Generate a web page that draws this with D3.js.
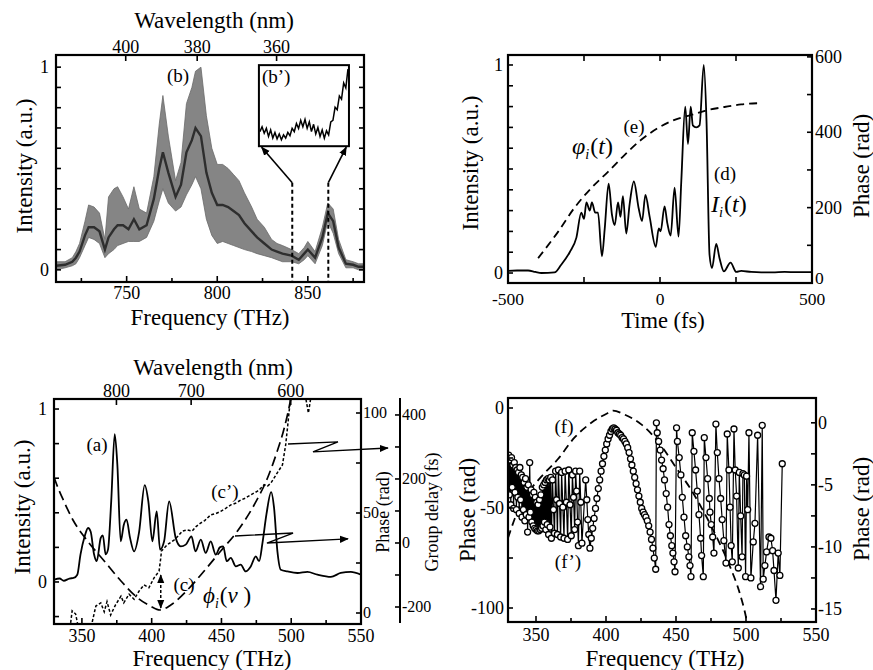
<!DOCTYPE html>
<html>
<head>
<meta charset="utf-8">
<script src="https://cdn.jsdelivr.net/npm/d3@7"></script>
<style>
body{margin:0;background:#fff}
svg{font-family:"Liberation Serif","Times New Roman",serif}
</style>
</head>
<body>
<svg id="fig" width="873" height="670"></svg>
<script>
// ---- data ----
var C_NM_THZ = 299792.458;

// (b) spectrum envelope: [freq THz, upper, lower, middle]
var bFreq  = [711,716,720,722,724,727,729,732,735,738,740,743,745,748,751,754,757,761,765,768,770,773,777,780,783,786,788,791,794,797,800,803,806,809,812,815,819,822,826,830,833,836,841,845,848,850,854,858,861,864,867,871,875,878,881];
var bUpper = [.04,.04,.06,.09,.13,.24,.32,.31,.28,.15,.36,.40,.41,.36,.30,.41,.30,.28,.46,.72,.86,.66,.44,.53,.82,.90,.98,1.0,.76,.60,.52,.52,.50,.47,.44,.38,.31,.25,.21,.15,.13,.12,.10,.08,.11,.14,.09,.21,.33,.30,.15,.05,.04,.03,.03];
var bLower = [.00,.01,.02,.03,.06,.12,.16,.15,.13,.06,.08,.10,.12,.13,.14,.14,.14,.16,.24,.34,.40,.33,.29,.31,.37,.42,.46,.40,.25,.17,.13,.14,.13,.12,.11,.10,.09,.08,.07,.06,.05,.04,.04,.03,.05,.07,.03,.12,.24,.18,.08,.01,.01,.00,.00];
var bMid   = [.02,.025,.04,.06,.09,.17,.21,.21,.19,.10,.16,.20,.22,.22,.20,.25,.20,.22,.35,.50,.58,.48,.36,.42,.58,.64,.70,.66,.48,.38,.32,.32,.31,.29,.27,.23,.19,.16,.13,.10,.09,.08,.07,.05,.08,.10,.06,.16,.28,.24,.11,.03,.025,.015,.015];
var bWaveTicks = [400,380,360];
// (b') inset, 841-861.5 THz, relative height in box
var insetVals = [0.18,0.24,0.16,0.22,0.12,0.20,0.10,0.17,0.09,0.15,0.08,0.14,0.10,0.17,0.13,0.22,0.18,0.28,0.22,0.32,0.24,0.33,0.22,0.30,0.18,0.27,0.15,0.23,0.12,0.20,0.10,0.19,0.14,0.30,0.32,0.48,0.45,0.62,0.58,0.78,0.72,0.95];
var insetStart = 841, insetStep = 0.5;
var bMarks = [841.4, 861.3];

// (d) temporal intensity [fs, a.u.] and phase (e) [fs, rad]
var dIntensity = [[-500,.01],[-470,.012],[-434,.012],[-410,.005],[-390,0],[-347,.003],[-325,.04],[-297,.10],[-275,.17],[-259,.29],[-250,.26],[-242,.34],[-231,.30],[-224,.34],[-213,.29],[-204,.29],[-191,.08],[-182,.21],[-169,.43],[-158,.28],[-149,.23],[-138,.34],[-130,.27],[-122,.37],[-111,.19],[-100,.33],[-86,.44],[-70,.31],[-59,.25],[-48,.375],[-34,.27],[-14,.126],[-4,.215],[2,.20],[15,.32],[24,.24],[35,.18],[48,.41],[61,.175],[70,.44],[83,.80],[92,.62],[101,.80],[108,.71],[119,.70],[130,.71],[144,1.0],[153,.73],[163,.087],[171,.024],[185,.14],[196,.07],[210,.008],[232,.05],[251,.005],[267,.01],[300,.005],[333,.003],[370,.003],[410,.005],[450,.004],[497,.004]];
var ePhase = [[-401,66],[-336,135],[-281,200],[-226,252],[-171,295],[-116,340],[-62,380],[-7,411],[48,433],[103,446],[158,459],[212,467],[267,474],[322,477]];

// (a) spectrum [THz, a.u.], (c) phase [THz, rad], (c') group delay [THz, fs]
var aIntensity = [[330,.013],[334,.02],[337,.007],[341,.02],[344,.023],[346.7,.042],[349,.16],[352,.264],[354.4,.312],[356.3,.29],[358.7,.16],[360.6,.12],[363.5,.255],[365,.27],[367,.16],[368.7,.187],[371,.466],[373.5,.855],[375.4,.678],[377.8,.235],[380,.33],[382,.36],[384.5,.255],[387.4,.177],[391,.29],[395,.56],[397.6,.466],[400.5,.235],[403.6,.408],[406,.187],[408.9,.235],[412.5,.466],[417.2,.255],[420.8,.206],[424.4,.216],[428.5,.264],[431.4,.177],[435.2,.245],[438.7,.168],[442.3,.235],[445.9,.158],[448.8,.2],[451.2,.206],[453.8,.12],[456.7,.139],[460.3,.09],[463.8,.10],[467.4,.061],[471,.09],[474.6,.148],[477,.12],[479.4,.226],[482.2,.389],[485.6,.52],[487.7,.428],[490.1,.177],[492.5,.071],[497.3,.061],[504.5,.052],[511.6,.058],[518.8,.042],[528.4,.029],[535.5,.052],[542.7,.058],[550,.042]];
var cPhase = [[330,68],[331,66],[337,56],[344,46],[354,36],[366,26],[378,16],[390,7.5],[399,3.5],[406,1.5],[413.7,4],[425.6,11.5],[437.6,21],[449.5,31],[461.5,41],[473.4,54],[483,67.5],[490,81],[495,92.5],[499.7,107.5],[502,118]];
var cDelay = [[341.5,-265],[343,-212],[345.5,-222],[347.5,-265],[357,-265],[357.5,-245],[360,-197],[363.5,-187],[366,-215],[368,-183],[370.6,-225],[374,-194],[378,-166],[380,-187],[383.8,-160],[387.4,-176],[391,-150],[394.5,-131],[398,-140],[401.7,-109],[405.3,-88],[406.5,-47],[407,-25],[411,-6],[416,9],[419,22],[422,37],[425.6,41],[429,37],[432,52],[435,62],[438,70],[442.3,88],[446,92],[449.5,99],[453,108],[456.7,119],[460,124],[463.8,134],[467,140],[471,150],[475.8,162],[478,170],[480.6,182],[483,178],[485.4,187],[488,205],[490,219],[493.7,244],[496,306],[497.3,359],[498.5,412],[499.7,453],[501,490],[509,490],[510.4,453],[512.3,406],[514,453],[515.5,490]];

// (f) dashed phase [THz, rad left], (f') retrieved phase [THz, rad right]
var fPhase = [[330,-65],[334.8,-55.4],[339.5,-47.5],[344,-42.6],[353.8,-34.3],[365.7,-25.5],[377.6,-14.7],[389.5,-7.4],[401.4,-2.5],[405,-1.3],[413.3,-3.3],[425.2,-8.2],[434.7,-14.7],[441,-20.4],[450.4,-30.2],[460,-40],[469.5,-51.5],[479,-64.5],[488.5,-79.2],[495.7,-93],[500,-104.6],[502,-112]];
var fpPhase = [[330.5,-2.6],[331,-5.8],[331.5,-3.0],[332,-6.6],[332.5,-2.8],[333,-5.2],[333.5,-3.4],[334,-6.9],[334.5,-3.2],[335,-5.6],[335.5,-3.6],[336,-7.0],[336.5,-3.8],[337,-6.0],[337.5,-4.0],[338,-7.3],[338.5,-3.6],[339,-6.2],[339.5,-4.2],[340,-7.6],[340.5,-4.4],[341,-7.0],[341.5,-4.8],[342,-7.9],[342.5,-4.5],[343,-7.4],[343.5,-5.2],[344,-8.8],[344.5,-5.0],[345,-7.6],[345.5,-3.2],[346,-7.2],[346.5,-5.4],[347,-8.0],[347.5,-5.8],[348,-8.3],[348.5,-5.6],[349,-8.5],[349.5,-6.0],[350,-8.6],[350.5,-6.4],[351,-8.7],[351.5,-6.6],[352,-8.7],[352.5,-6.2],[353,-8.6],[353.5,-5.8],[354,-8.5],[354.5,-5.2],[355,-8.3],[355.5,-5.0],[356,-8.0],[356.5,-4.8],[357,-8.6],[357.5,-4.6],[358,-8.2],[358.5,-4.5],[359,-9.0],[359.5,-4.6],[360,-8.4],[360.5,-4.4],[361,-9.3],
[361.8,-4.6],[362.5,-7.0],[363.2,-8.9],[364,-3.9],[364.7,-6.2],[365.3,-9.0],[366,-3.8],[366.8,-6.5],[367.6,-9.2],[368.3,-4.0],[369.2,-6.8],[370,-9.3],[370.8,-3.9],[371.7,-6.4],[372.6,-9.4],[373.4,-3.8],[374.3,-6.6],[375.2,-9.1],[376,-4.2],[376.8,-6.0],[377.6,-8.6],[378.3,-3.9],[379,-5.5],[379.7,-8.0],[380.3,-9.9],[381.2,-3.9],[382,-6.4],[382.8,-9.7],[385.5,-4.6],[386.3,-6.2],[387,-7.8],[387.7,-9.0],[388.5,-10.1],
[389.5,-9.3],[390.5,-8.5],[391.5,-7.7],[392.5,-6.9],[393.5,-6.1],[394.5,-5.3],[395.5,-4.6],[396.5,-3.9],[397.5,-3.3],[398.5,-2.7],[399.5,-2.2],[400.5,-1.7],[401.5,-1.3],[402.5,-1.0],[403.5,-0.7],[404.5,-0.5],[405.5,-0.4],
[406.5,-0.5],[407.5,-0.6],[408.5,-0.8],[409.5,-0.9],[410.5,-1.0],[411.5,-1.2],[412.5,-1.3],[413.5,-1.5],[414.5,-1.7],[415.5,-2.0],[416.5,-2.4],[417.5,-2.9],[418.5,-3.4],[419.5,-3.9],[420.5,-4.4],[421.5,-4.9],[422.5,-5.4],[423.5,-5.9],[424.5,-6.4],[425.5,-6.9],[426.5,-7.2],[427.5,-7.4],[428.5,-7.6],[429.5,-7.9],[430.5,-8.3],[431.5,-8.8],[432.5,-9.4],[433.5,-10.1],[434.5,-10.9],[435.5,-11.8],
[436,0.0],[436.6,-0.8],[437.6,-1.5],[438.7,-2.2],[439.7,-3.0],[440.8,-3.7],[441.8,-4.6],[443,-5.7],[444,-6.8],[445,-8.2],[446,-9.1],[447,-9.9],[447.8,-10.5],[448.6,-11.2],[449.3,-12.0],
[450.4,-0.4],[451,-1.5],[452.3,-2.8],[453.5,-4.2],[454.5,-6.0],[455.7,-7.6],[456.9,-9.1],[458.1,-10.0],[459.2,-10.8],[460,-11.5],[460.7,-12.4],
[461.6,-0.8],[462.8,-2.3],[464,-3.8],[465.2,-5.5],[466.4,-7.4],[467.6,-9.3],[468.3,-10.7],[469.5,-12.4],
[470.2,-1.2],[471.4,-2.8],[472.6,-4.5],[473.8,-6.1],[474.3,-7.2],[475.2,-8.2],[476.2,-9.2],[477.1,-10.5],
[478.5,-0.1],[479.5,-2.4],[480.7,-4.5],[481.9,-6.1],[483,-7.8],[484.2,-9.5],[485.7,-11.3],
[486.6,-0.9],[487.8,-3.8],[488.6,-6.8],[489.4,-9.9],[490.2,-11.2],[491.4,-0.5],[492.3,-3.8],[493.3,-5.9],[494.5,-11.7],[495.2,-4.0],[496.2,-7.5],[497.2,-10.8],[497.8,-4.1],[498.8,-4.2],[499.7,-12.4],[500.4,-4.3],[501.2,-7.0],[502.1,-0.8],[503.5,-12.5],[505.2,-9.6],[506.4,-8.1],[508.3,-1.0],[510.4,-13.2],[511.6,-0.2],[512.3,-12.6],[513.5,-11.5],[514.7,-10.4],[516.4,-9.2],[517.8,-9.3],[519,-10.3],[520,-11.9],[521.4,-14.3],[523,-10.5],[524.2,-12.3],[525.9,-3.3]];

var svg = d3.select("#fig");
var defs = svg.append("defs");
defs.append("marker").attr("id","arr").attr("viewBox","0 -5 10 10")
	.attr("refX",9).attr("refY",0).attr("markerWidth",9).attr("markerHeight",9)
	.attr("markerUnits","userSpaceOnUse").attr("orient","auto-start-reverse")
	.append("path").attr("d","M0,-4L10,0L0,4Z").attr("fill","#000");

// inward ticks on a frame side
function ticks(g, scale, side, vals, len, pos){
	var horiz = side === "top" || side === "bottom";
	var dir = (side === "bottom" || side === "right") ? -1 : 1;
	g.append("g").selectAll("line").data(vals).join("line")
		.attr("x1", function(d){ return horiz ? scale(d) : pos; })
		.attr("x2", function(d){ return horiz ? scale(d) : pos + dir*len; })
		.attr("y1", function(d){ return horiz ? pos : scale(d); })
		.attr("y2", function(d){ return horiz ? pos + dir*len : scale(d); })
		.attr("stroke","#000").attr("stroke-width",1.6);
}
function labels(g, scale, side, vals, pos, size){
	var horiz = side === "top" || side === "bottom";
	g.append("g").selectAll("text").data(vals).join("text")
		.attr("x", function(d){ return horiz ? scale(d) : pos; })
		.attr("y", function(d){ return horiz ? pos : scale(d); })
		.attr("dy", horiz ? null : "0.34em")
		.attr("text-anchor", horiz ? "middle" : (side === "left" ? "end" : "start"))
		.attr("font-size", size || 18)
		.text(function(d){ return d; });
}
function frame(g, x0, x1, y0, y1){
	g.append("rect").attr("x",x0).attr("y",y0).attr("width",x1-x0).attr("height",y1-y0)
		.attr("fill","none").attr("stroke","#000").attr("stroke-width",2.2);
}
function clip(id, x0, x1, y0, y1){
	defs.append("clipPath").attr("id",id).append("rect")
		.attr("x",x0).attr("y",y0).attr("width",x1-x0).attr("height",y1-y0);
	return "url(#" + id + ")";
}
function title(g, txt, x, y, rot, size){
	var t = g.append("text").attr("text-anchor","middle").attr("font-size", size || 23).text(txt);
	if(rot){
		t.attr("transform","translate(" + x + "," + y + ") rotate(-90)").attr("dy","0.3em");
	} else {
		t.attr("x",x).attr("y",y);
	}
	return t;
}
function note(g, txt, x, y){
	g.append("text").attr("x",x).attr("y",y).attr("text-anchor","middle").attr("font-size",19).text(txt);
}
function mathLabel(g, x, y, sym, sub, arg, size){
	var t = g.append("text").attr("x",x).attr("y",y).attr("font-size",size);
	t.append("tspan").attr("font-style","italic").text(sym);
	t.append("tspan").attr("font-style","italic").attr("font-size",size*0.6).attr("dy",size*0.22).text(sub);
	t.append("tspan").attr("dy",-size*0.22).attr("dx",1).text("(");
	t.append("tspan").attr("font-style","italic").text(arg);
	t.append("tspan").text(")");
}
function range(a, b, s){ return d3.range(a, b + s/2, s); }

// ================= panel (b) =================
(function(){
	var X0=56, X1=364, Y0=55, Y1=282;
	var g = svg.append("g");
	var x = d3.scaleLinear().domain([711,881]).range([X0,X1]);
	var y = d3.scaleLinear().domain([-0.06,1.06]).range([Y1,Y0]);
	var cp = clip("cb", X0, X1, Y0, Y1);
	var pts = bFreq.map(function(f,i){ return {f:f, u:bUpper[i], l:bLower[i], m:bMid[i]}; });
	g.append("path").datum(pts).attr("clip-path",cp)
		.attr("d", d3.area().x(function(d){return x(d.f);}).y0(function(d){return y(d.l);}).y1(function(d){return y(d.u);}))
		.attr("fill","#858585").attr("stroke","#6a6a6a").attr("stroke-width",0.8);
	g.append("path").datum(pts).attr("clip-path",cp)
		.attr("d", d3.line().x(function(d){return x(d.f);}).y(function(d){return y(d.m);}))
		.attr("fill","none").attr("stroke","#2e2e2e").attr("stroke-width",2.4);

	// markers and arrows to the inset
	var box = {f0:823, f1:872.7, v0:0.61, v1:1.01};
	bMarks.forEach(function(f, i){
		g.append("line").attr("x1",x(f)).attr("x2",x(f)).attr("y1",y(0.43)).attr("y2",Y1)
			.attr("stroke","#000").attr("stroke-width",2).attr("stroke-dasharray","4,3");
		var tf = i === 0 ? box.f0 + 1.5 : box.f1 - 1.5;
		g.append("line").attr("x1",x(f)).attr("y1",y(0.43)).attr("x2",x(tf)).attr("y2",y(box.v0 - 0.005))
			.attr("stroke","#000").attr("stroke-width",1.6).attr("marker-end","url(#arr)");
	});
	g.append("rect").attr("x",x(box.f0)).attr("y",y(box.v1)).attr("width",x(box.f1)-x(box.f0))
		.attr("height",y(box.v0)-y(box.v1)).attr("fill","#fff").attr("stroke","#000").attr("stroke-width",2);
	var ix = d3.scaleLinear().domain([insetStart, insetStart + insetStep*(insetVals.length-1)]).range([x(box.f0)+1, x(box.f1)-1]);
	var iy = d3.scaleLinear().domain([0,1]).range([y(box.v0), y(box.v1)]);
	g.append("path").datum(insetVals)
		.attr("d", d3.line().x(function(d,i){ return ix(insetStart + i*insetStep); }).y(function(d){ return iy(d); }))
		.attr("fill","none").attr("stroke","#000").attr("stroke-width",1.5);
	g.append("text").attr("x",x(box.f0)+3).attr("y",83).attr("font-size",19).text("(b\u2019)");

	frame(g, X0, X1, Y0, Y1);
	ticks(g, x, "bottom", [750,800,850], 6, Y1);
	ticks(g, x, "bottom", [725,775,825,875], 4, Y1);
	ticks(g, y, "left", range(0,1,0.1), 5, X0);
	ticks(g, y, "right", range(0,1,0.1), 5, X1);
	var wt = bWaveTicks.map(function(l){ return C_NM_THZ / l; });
	ticks(g, x, "top", wt, 6, Y0);
	labels(g, x, "bottom", [750,800,850], 299);
	labels(g, y, "left", [0,1], X0-7);
	g.append("g").selectAll("text").data(bWaveTicks).join("text")
		.attr("x", function(d){ return x(C_NM_THZ/d); }).attr("y",53)
		.attr("text-anchor","middle").attr("font-size",18).text(function(d){ return d; });
	title(g, "Wavelength (nm)", 214, 28);
	title(g, "Frequency (THz)", 210, 325);
	title(g, "Intensity (a.u.)", 25, 166, true);
	note(g, "(b)", 178, 82);
})();

// ================= panel (d) =================
(function(){
	var X0=508, X1=812, Y0=55, Y1=283;
	var g = svg.append("g");
	var x = d3.scaleLinear().domain([-500,500]).range([X0,X1]);
	var y = d3.scaleLinear().domain([-0.048,1.048]).range([Y1,Y0]);
	var yr = d3.scaleLinear().domain([0,605]).range([Y1,Y0]);
	var cp = clip("cd", X0, X1, Y0, Y1);
	g.append("path").datum(ePhase).attr("clip-path",cp)
		.attr("d", d3.line().x(function(d){return x(d[0]);}).y(function(d){return yr(d[1]);}).curve(d3.curveMonotoneX))
		.attr("fill","none").attr("stroke","#000").attr("stroke-width",1.8).attr("stroke-dasharray","8,5");
	g.append("path").datum(dIntensity).attr("clip-path",cp)
		.attr("d", d3.line().x(function(d){return x(d[0]);}).y(function(d){return y(d[1]);}).curve(d3.curveMonotoneX))
		.attr("fill","none").attr("stroke","#000").attr("stroke-width",1.8);
	frame(g, X0, X1, Y0, Y1);
	ticks(g, x, "bottom", [-500,-250,0,250,500], 6, Y1);
	ticks(g, x, "top", [-250,0,250], 6, Y0);
	ticks(g, y, "left", range(0,1,0.1), 5, X0);
	ticks(g, yr, "right", range(0,600,100), 5, X1);
	labels(g, x, "bottom", [-500,0,500], 305, 17.5);
	labels(g, y, "left", [0,1], X0-5);
	labels(g, yr, "right", [200,400,600], X1+3);
	g.append("text").attr("x",X1+3).attr("y",yr(0)).attr("dy","0.05em").attr("font-size",17.5).text(0);
	title(g, "Time (fs)", 663, 328, false, 22.5);
	title(g, "Intensity (a.u.)", 471, 163, true);
	title(g, "Phase (rad)", 862, 166, true);
	note(g, "(e)", 634, 133);
	note(g, "(d)", 725, 180);
	mathLabel(g, 572, 154, "\u03C6", "i", "t", 24);
	mathLabel(g, 711, 212, "I", "i", "t", 24);
})();

// ================= panel (a) =================
(function(){
	var X0=54, X1=361, Y0=399, Y1=624;
	var g = svg.append("g");
	var x = d3.scaleLinear().domain([330,550]).range([X0,X1]);
	var y = d3.scaleLinear().domain([-0.243,1.058]).range([Y1,Y0]);
	var yp = d3.scaleLinear().domain([-5.5,107]).range([Y1,Y0]);
	var yg = d3.scaleLinear().domain([-250,453]).range([623,398]);
	var cp = clip("ca", X0, X1, Y0, Y1);
	g.append("path").datum(cPhase).attr("clip-path",cp)
		.attr("d", d3.line().x(function(d){return x(d[0]);}).y(function(d){return yp(d[1]);}).curve(d3.curveMonotoneX))
		.attr("fill","none").attr("stroke","#000").attr("stroke-width",1.7).attr("stroke-dasharray","10,5");
	g.append("path").datum(cDelay).attr("clip-path",cp)
		.attr("d", d3.line().x(function(d){return x(d[0]);}).y(function(d){return yg(d[1]);}))
		.attr("fill","none").attr("stroke","#000").attr("stroke-width",1.5).attr("stroke-dasharray","3,2");
	g.append("path").datum(aIntensity).attr("clip-path",cp)
		.attr("d", d3.line().x(function(d){return x(d[0]);}).y(function(d){return y(d[1]);}).curve(d3.curveMonotoneX))
		.attr("fill","none").attr("stroke","#000").attr("stroke-width",1.8);

	// double arrow between curves and the zig-zag pointers to the axes
	g.append("line").attr("x1",x(406.5)).attr("x2",x(406.5)).attr("y1",y(0.04)).attr("y2",y(-0.15))
		.attr("stroke","#000").attr("stroke-width",1.5).attr("stroke-dasharray","3,2")
		.attr("marker-start","url(#arr)").attr("marker-end","url(#arr)");
	var zigs = [
		[[497.7,0.798],[533.5,0.81],[515.6,0.752],[569.3,0.775]],
		[[459.7,0.266],[501.3,0.283],[482.6,0.225],[540.7,0.249]]
	];
	zigs.forEach(function(z){
		g.append("path").datum(z)
			.attr("d", d3.line().x(function(d){return x(d[0]);}).y(function(d){return y(d[1]);}))
			.attr("fill","none").attr("stroke","#000").attr("stroke-width",1.4).attr("marker-end","url(#arr)");
	});

	frame(g, X0, X1, Y0, Y1);
	ticks(g, x, "bottom", range(350,550,50), 6, Y1);
	ticks(g, x, "bottom", range(375,525,50), 4, Y1);
	var wv = [800,700,600];
	ticks(g, x, "top", wv.map(function(l){ return C_NM_THZ/l; }), 6, Y0);
	ticks(g, y, "left", range(-0.2,1,0.2), 5, X0);
	ticks(g, yp, "right", range(0,100,25), 5, X1);
	labels(g, x, "bottom", range(350,550,50), 642);
	labels(g, y, "left", [0,1], X0-7);
	labels(g, yp, "right", [0,50,100], X1+2, 16);
	g.append("g").selectAll("text").data(wv).join("text")
		.attr("x", function(d){ return x(C_NM_THZ/d); }).attr("y",397)
		.attr("text-anchor","middle").attr("font-size",18).text(function(d){ return d; });

	// separate group-delay axis
	var GX = 400;
	g.append("line").attr("x1",GX).attr("x2",GX).attr("y1",398).attr("y2",623).attr("stroke","#000").attr("stroke-width",2);
	ticks(g, yg, "right", range(-200,400,100), 5, GX);
	labels(g, yg, "right", [-200,0,200,400], GX+2, 16);

	title(g, "Wavelength (nm)", 213, 375);
	title(g, "Frequency (THz)", 212, 666);
	title(g, "Intensity (a.u.)", 23, 507, true);
	title(g, "Phase (rad)", 384, 512, true, 18);
	title(g, "Group delay (fs)", 433, 512, true, 18);
	note(g, "(a)", 97, 451);
	note(g, "(c\u2019)", 225, 498);
	note(g, "(c)", 184, 591);
	mathLabel(g, 203, 603, "\u03D5", "i", "\u03BD ", 23);
})();

// ================= panel (f) =================
(function(){
	var X0=508, X1=816, Y0=398, Y1=622;
	var g = svg.append("g");
	var x = d3.scaleLinear().domain([330,550]).range([X0,X1]);
	var yl = d3.scaleLinear().domain([-107,5]).range([Y1,Y0]);
	var yr = d3.scaleLinear().domain([-16.05,2]).range([Y1,Y0]);
	var cp = clip("cf", X0, X1, Y0, Y1);
	g.append("path").datum(fPhase).attr("clip-path",cp)
		.attr("d", d3.line().x(function(d){return x(d[0]);}).y(function(d){return yl(d[1]);}).curve(d3.curveMonotoneX))
		.attr("fill","none").attr("stroke","#000").attr("stroke-width",1.8).attr("stroke-dasharray","8,5");
	g.append("path").datum(fpPhase).attr("clip-path",cp)
		.attr("d", d3.line().x(function(d){return x(d[0]);}).y(function(d){return yr(d[1]);}))
		.attr("fill","none").attr("stroke","#000").attr("stroke-width",1.2);
	g.append("g").attr("clip-path",cp).selectAll("circle").data(fpPhase).join("circle")
		.attr("cx", function(d){ return x(d[0]); }).attr("cy", function(d){ return yr(d[1]); })
		.attr("r",3).attr("fill","#fff").attr("stroke","#000").attr("stroke-width",1.3);
	frame(g, X0, X1, Y0, Y1);
	ticks(g, x, "bottom", range(350,550,50), 6, Y1);
	ticks(g, x, "bottom", range(375,525,50), 4, Y1);
	ticks(g, yl, "left", range(-100,0,25), 5, X0);
	ticks(g, yr, "right", range(-15,0,2.5), 5, X1);
	labels(g, x, "bottom", range(350,550,50), 641);
	labels(g, yl, "left", [-100,-50,0], X0-4);
	labels(g, yr, "right", [-15,-10,-5,0], X1+2);
	title(g, "Frequency (THz)", 665, 666);
	title(g, "Phase (rad)", 468, 510, true);
	title(g, "Phase (rad)", 862, 509, true);
	note(g, "(f)", 564, 433);
	note(g, "(f\u2019)", 568, 568);
})();
</script>
</body>
</html>
